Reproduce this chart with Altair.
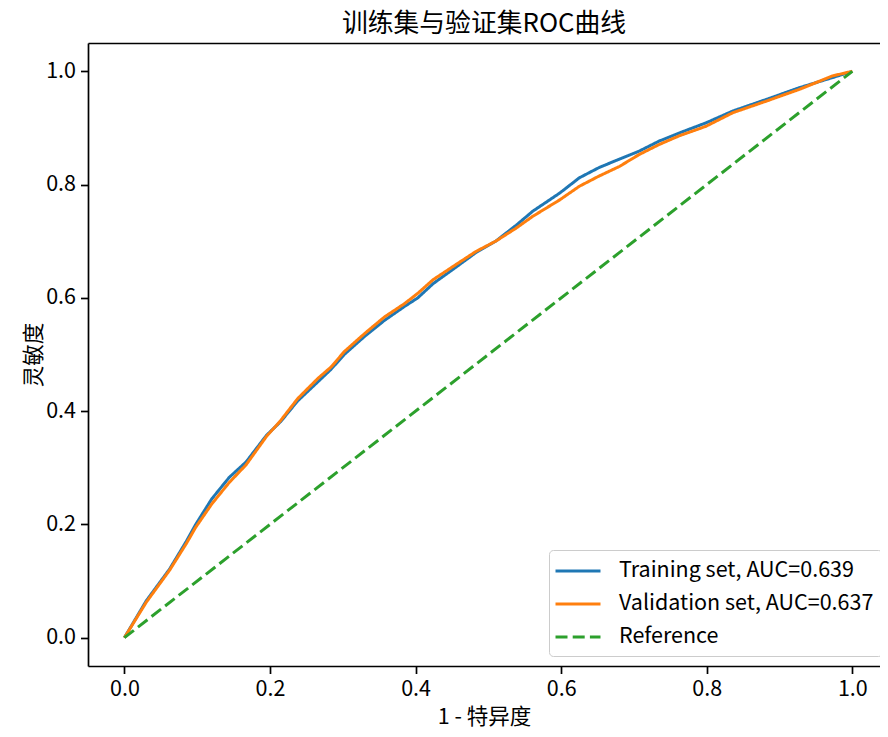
import altair as alt
import pandas as pd

fpr = [0, 0.03, 0.062, 0.085, 0.098, 0.12, 0.144, 0.167, 0.195, 0.215, 0.238, 0.266, 0.284,
       0.302, 0.33, 0.357, 0.385, 0.403, 0.424, 0.451, 0.483, 0.51, 0.538, 0.561, 0.598,
       0.625, 0.652, 0.68, 0.707, 0.735, 0.762, 0.799, 0.836, 0.881, 0.927, 0.973, 1.0]
tpr_train = [0, 0.065, 0.121, 0.17, 0.2, 0.245, 0.283, 0.31, 0.357, 0.382, 0.418, 0.452, 0.474,
             0.5, 0.532, 0.56, 0.585, 0.6, 0.625, 0.65, 0.68, 0.70, 0.728, 0.753, 0.785,
             0.812, 0.83, 0.845, 0.859, 0.877, 0.891, 0.909, 0.93, 0.95, 0.971, 0.989, 1.0]
tpr_valid = [0, 0.0625, 0.119, 0.166, 0.195, 0.236, 0.274, 0.305, 0.355, 0.384, 0.422, 0.458, 0.478,
             0.505, 0.537, 0.566, 0.59, 0.608, 0.632, 0.655, 0.682, 0.70, 0.723, 0.744, 0.773,
             0.797, 0.815, 0.832, 0.853, 0.871, 0.886, 0.903, 0.927, 0.947, 0.968, 0.992, 1.0]
ref_x = [0, 1]
ref_y = [0, 1]

series = ["Training set, AUC=0.639", "Validation set, AUC=0.637", "Reference"]
colors = ["#1f77b4", "#ff7f0e", "#2ca02c"]
dashes = [[1, 0], [1, 0], [12, 5.2]]

rows = []
for i, (x, y) in enumerate(zip(fpr, tpr_train)):
    rows.append({"x": x, "y": y, "s": series[0], "o": i})
for i, (x, y) in enumerate(zip(fpr, tpr_valid)):
    rows.append({"x": x, "y": y, "s": series[1], "o": i})
for i, (x, y) in enumerate(zip(ref_x, ref_y)):
    rows.append({"x": x, "y": y, "s": series[2], "o": i})
df = pd.DataFrame(rows)

FONT = "Noto Sans CJK SC"
FS = 21.5
ticks = [0, 0.2, 0.4, 0.6, 0.8, 1.0]
xdom = [-0.05, 1.038]
ydom = [-0.05, 1.05]

legend = alt.Legend(orient="none", legendX=461, legendY=507)

lines = alt.Chart(df).mark_line(strokeWidth=3, clip=True).encode(
    x=alt.X("x:Q", scale=alt.Scale(domain=xdom, nice=False, zero=False),
            axis=alt.Axis(title="1 - 特异度", values=ticks, format=".1f", grid=False)),
    y=alt.Y("y:Q", scale=alt.Scale(domain=ydom, nice=False, zero=False),
            axis=alt.Axis(title="灵敏度", values=ticks, format=".1f", grid=False)),
    color=alt.Color("s:N", scale=alt.Scale(domain=series, range=colors), title=None, legend=legend),
    strokeDash=alt.StrokeDash("s:N", scale=alt.Scale(domain=series, range=dashes), title=None,
                              legend=legend),
    order="o:Q",
)

top_spine = alt.Chart(df).mark_line(opacity=0).encode(
    x=alt.X("x:Q", scale=alt.Scale(domain=xdom, nice=False, zero=False),
            axis=alt.Axis(orient="top", labels=False, ticks=False, title=None, grid=False,
                          domain=True)),
    y=alt.Y("y:Q", scale=alt.Scale(domain=ydom, nice=False, zero=False)),
)

chart = alt.layer(lines, top_spine).resolve_scale(x="independent").properties(
    width=792, height=623,
    title=alt.TitleParams("训练集与验证集ROC曲线", font=FONT, fontSize=25.8, fontWeight="normal",
                          color="black", offset=5),
    autosize=alt.AutoSizeParams(type="none"),
    padding={"left": 80, "top": 35, "right": 0, "bottom": 63},
).configure_view(
    stroke=None
).configure_axis(
    labelFont=FONT, labelFontSize=FS, labelColor="black",
    titleFont=FONT, titleFontSize=FS, titleColor="black", titleFontWeight="normal",
    domain=True, domainColor="black", domainWidth=1.7,
    tickColor="black", tickSize=7.5, tickWidth=1.7, labelPadding=5,
).configure_axisY(titlePadding=0).configure_axisX(titlePadding=6).configure_legend(
    labelFont=FONT, labelFontSize=FS, labelColor="black",
    symbolType="M-2,0H2", symbolSize=506, symbolStrokeWidth=3, symbolOffset=8,
    strokeColor="#cccccc", fillColor="white", cornerRadius=4, padding=8,
    rowPadding=9, labelOffset=28, labelLimit=400,
)

chart.save("out.html", embed_options={"renderer": "svg", "actions": False})
